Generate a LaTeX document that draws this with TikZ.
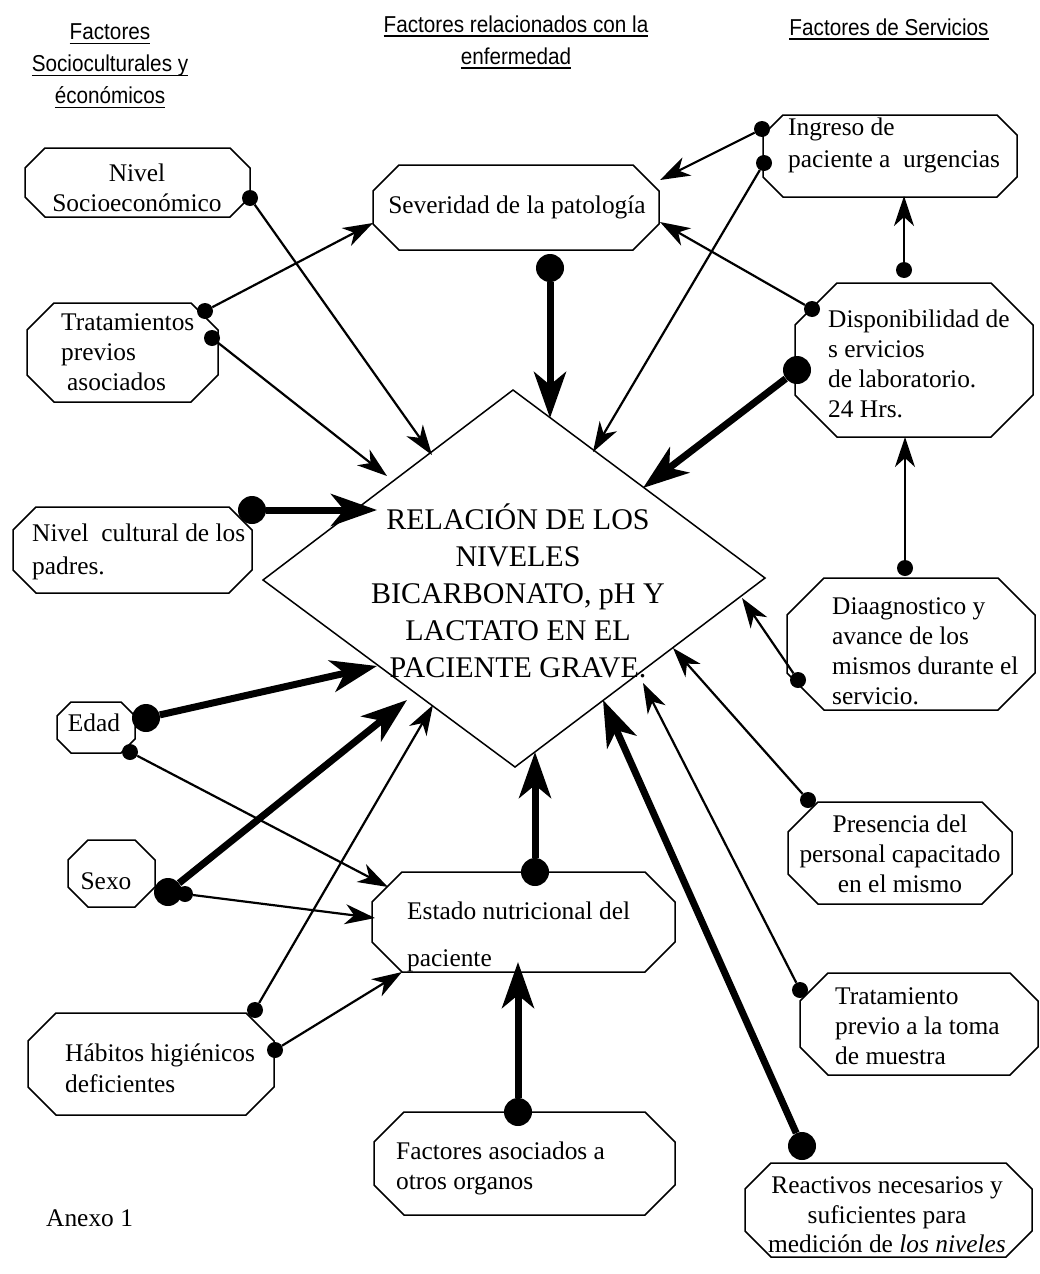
\documentclass[tikz,border=0pt]{standalone}
\usepackage{fontspec}
\setmainfont{Liberation Serif}
\newfontfamily\hdrfont[FakeStretch=0.9]{Liberation Sans}
\usetikzlibrary{arrows.meta,calc}
\newsavebox\ulbox
\newcommand\hdrul[1]{\sbox\ulbox{#1}\rlap{\rule[-4.5pt]{\wd\ulbox}{1.3pt}}\usebox\ulbox}
\tikzset{
 boxline/.style={draw=black, line width=1.5pt, line join=miter},
 txt/.style={inner sep=0pt, font=\fontsize{25.4}{30}\selectfont},
 dotsm/.style={circle, fill=black, inner sep=0pt, minimum size=16pt},
 dotbig/.style={circle, fill=black, inner sep=0pt, minimum size=28pt},
 thinarr/.style={line width=2.2pt, -{Stealth[length=30pt,width=20pt,inset=9pt]}},
 thickarr/.style={line width=7pt, -{Stealth[length=46pt,width=32pt,inset=13pt]}},
 hdr/.style={inner sep=0pt, font=\hdrfont\fontsize{23}{32}\selectfont, align=center},
}
% name, x1, y1, x2, y2, chamfer
\newcommand\octbox[6]{%
 \node[inner sep=0pt, minimum width={(#4-#2)*1pt}, minimum height={(#5-#3)*1pt}] (#1) at ({(#2+#4)/2},{(#3+#5)/2}) {};
 \draw[boxline] ({#2+#6},#3) -- ({#4-#6},#3) -- (#4,{#3+#6}) -- (#4,{#5-#6}) -- ({#4-#6},#5) -- ({#2+#6},#5) -- (#2,{#5-#6}) -- (#2,{#3+#6}) -- cycle;}
\begin{document}
\begin{tikzpicture}[x=1pt,y=-1pt]
\fill[white] (0,0) rectangle (1039,1274);
\useasboundingbox (0,0) rectangle (1039,1274);

% headers
\node[hdr] (h1) at (110,66) {\hdrul{Factores}\\\hdrul{Socioculturales y}\\\hdrul{éconómicos}};
\node[hdr] (h2) at (516,42) {\hdrul{Factores relacionados con la}\\\hdrul{enfermedad}};
\node[hdr, anchor=base] (h3) at (889,35) {\hdrul{Factores de Servicios}};

% boxes
\octbox{ns}{25}{148}{250}{217}{20}
\octbox{sev}{373}{165}{659}{250}{26}
\octbox{tr}{27}{303}{218}{402}{27}
\octbox{ing}{763}{115}{1017}{197}{20}
\octbox{disp}{795}{283}{1033}{437}{42}
\octbox{nc}{13}{507}{252}{593}{23}
\octbox{edad}{57}{702}{135}{753}{14}
\octbox{sexo}{68}{840}{155}{907}{20}
\octbox{est}{372}{872}{675}{972}{30}
\octbox{hab}{28}{1013}{274}{1115}{28}
\octbox{fa}{374}{1112}{675}{1215}{30}
\octbox{diag}{787}{578}{1035}{710}{37}
\octbox{pres}{788}{802}{1012}{904}{30}
\octbox{tp}{800}{973}{1038}{1075}{28}
\octbox{re}{745}{1163}{1032}{1257}{26}

% diamond
\coordinate (dl) at (263,580);
\coordinate (dt) at (513,390);
\coordinate (dr) at (765,578);
\coordinate (db) at (515,767);
\draw[boxline] (dl) -- (dt) -- (dr) -- (db) -- cycle;
\node[inner sep=0pt, align=center, font=\fontsize{30}{37}\selectfont] (rel) at (518,591)
 {RELACIÓN DE LOS\\NIVELES\\BICARBONATO, pH Y\\LACTATO EN EL\\PACIENTE GRAVE.};

% texts
\node[txt, align=center] (ns-t) at (137,188) {Nivel\\Socioeconómico};
\node[txt] (sev-t) at (517,207) {Severidad de la patología};
\node[txt, align=left, anchor=west] (tr-t) at (61,352) {Tratamientos\\previos\\\hspace{6pt}asociados};
\node[txt, align=left, anchor=west, font=\fontsize{25.4}{32}\selectfont] (ing-t) at (788,145) {Ingreso de\\paciente a~ urgencias};
\node[txt, align=left, anchor=west] (disp-t) at (828,364) {Disponibilidad de\\s ervicios\\de laboratorio.\\24 Hrs.};
\node[txt, align=left, anchor=west, font=\fontsize{25.4}{33}\selectfont] (nc-t) at (32,552) {Nivel~ cultural de los\\padres.};
\node[txt] (edad-t) at (94,723) {Edad};
\node[txt] (sexo-t) at (106,881) {Sexo};
\node[txt, align=left, anchor=west, font=\fontsize{25.4}{47}\selectfont] (est-t) at (407,937) {Estado nutricional del\\paciente};
\node[txt, align=left, anchor=west, font=\fontsize{25.4}{31}\selectfont] (hab-t) at (65,1068) {Hábitos higiénicos\\deficientes};
\node[txt, align=left, anchor=west] (fa-t) at (396,1168) {Factores asociados a\\otros organos};
\node[txt, align=left, anchor=west] (diag-t) at (832,651) {Diaagnostico y\\avance de los\\mismos durante el\\servicio.};
\node[txt, align=center] (pres-t) at (900,854) {Presencia del\\personal capacitado\\en el mismo};
\node[txt, align=left, anchor=west] (tp-t) at (835,1026) {Tratamiento\\previo a la toma\\de muestra};
\node[txt, align=center, font=\fontsize{25.4}{29.5}\selectfont] (re-t) at (887,1215) {Reactivos necesarios y\\suficientes para\\medición de \textit{los niveles}};
\node[txt, anchor=west] (anexo) at (46,1218) {Anexo 1};

% dots
\node[dotsm] (d1) at (250,198) {};
\node[dotsm] (d2) at (205,311) {};
\node[dotsm] (d3) at (212,338) {};
\node[dotbig] (d4) at (550,268) {};
\node[dotsm] (d5) at (762,129) {};
\node[dotsm] (d6) at (764,163) {};
\node[dotsm] (d7) at (812,309) {};
\node[dotbig] (d8) at (797,370) {};
\node[dotsm] (d9) at (904,270) {};
\node[dotsm] (d10) at (905,568) {};
\node[dotsm] (d11) at (798,680) {};
\node[dotsm] (d12) at (808,800) {};
\node[dotsm] (d13) at (800,990) {};
\node[dotbig] (d14) at (802,1146) {};
\node[dotbig] (d15) at (535,872) {};
\node[dotbig] (d16) at (518,1112) {};
\node[dotbig] (d17) at (146,718) {};
\node[dotsm] (d18) at (130,752) {};
\node[dotbig] (d19) at (168,892) {};
\node[dotsm] (d20) at (185,894) {};
\node[dotsm] (d21) at (255,1010) {};
\node[dotsm] (d22) at (275,1050) {};
\node[dotbig] (d23) at (252,510) {};

% arrow tips
\coordinate (t1) at (432,455);
\coordinate (t2) at (373,223);
\coordinate (t3) at (387,476);
\coordinate (t4) at (550,418);
\coordinate (t5) at (660,180);
\coordinate (t6) at (593,452);
\coordinate (t7) at (660,222);
\coordinate (t8) at (643,488);
\coordinate (t9) at (904,196);
\coordinate (t10) at (905,437);
\coordinate (t11) at (742,598);
\coordinate (t12) at (673,648);
\coordinate (t13) at (643,683);
\coordinate (t14) at (603,700);
\coordinate (t15) at (535,752);
\coordinate (t16) at (518,962);
\coordinate (t17) at (377,666);
\coordinate (t18) at (388,887);
\coordinate (t19) at (407,700);
\coordinate (t20) at (375,918);
\coordinate (t21) at (433,705);
\coordinate (t22) at (402,972);
\coordinate (t23) at (377,510);

% connectors
\draw[thinarr] (d1) -- (t1);
\draw[thinarr] (d2) -- (t2);
\draw[thinarr] (d3) -- (t3);
\draw[thickarr] (d4) -- (t4);
\draw[thinarr] (d5) -- (t5);
\draw[thinarr] (d6) -- (t6);
\draw[thinarr] (d7) -- (t7);
\draw[thickarr] (d8) -- (t8);
\draw[thinarr] (d9) -- (t9);
\draw[thinarr] (d10) -- (t10);
\draw[thinarr] (d11) -- (t11);
\draw[thinarr] (d12) -- (t12);
\draw[thinarr] (d13) -- (t13);
\draw[thickarr] (d14) -- (t14);
\draw[thickarr] (d15) -- (t15);
\draw[thickarr] (d16) -- (t16);
\draw[thickarr] (d17) -- (t17);
\draw[thinarr] (d18) -- (t18);
\draw[thickarr] (d19) -- (t19);
\draw[thinarr] (d20) -- (t20);
\draw[thinarr] (d21) -- (t21);
\draw[thinarr] (d22) -- (t22);
\draw[thickarr] (d23) -- (t23);
\end{tikzpicture}
\end{document}
